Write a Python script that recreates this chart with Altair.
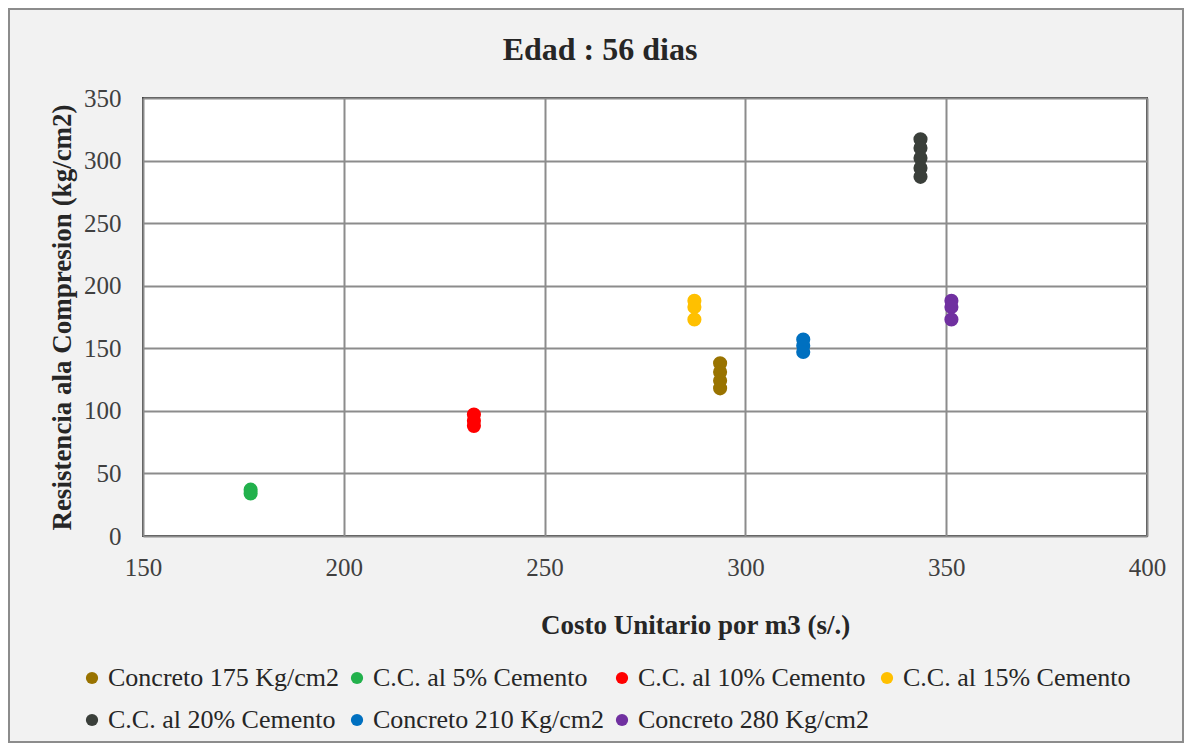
import altair as alt
import pandas as pd

series_names = [
    "Concreto 175 Kg/cm2",
    "C.C. al 5% Cemento",
    "C.C. al 10% Cemento",
    "C.C. al 15% Cemento",
    "C.C. al 20% Cemento",
    "Concreto 210 Kg/cm2",
    "Concreto 280 Kg/cm2",
]
series_colors = ["#997300", "#22B14C", "#FF0000", "#FFC000", "#3A3F3A", "#0070C0", "#7030A0"]

costo_175 = 293.7
res_175 = [138, 131, 124, 118]
costo_5 = 176.8
res_5 = [37, 34]
costo_10 = 232.4
res_10 = [97, 92, 88]
costo_15 = 287.3
res_15 = [188, 183, 173]
costo_20 = 343.6
res_20 = [317, 310, 302, 294, 287]
costo_210 = 314.4
res_210 = [157, 152, 147]
costo_280 = 351.3
res_280 = [188, 183, 173]

chart_title = "Edad : 56 dias"

costs = [costo_175, costo_5, costo_10, costo_15, costo_20, costo_210, costo_280]
resists = [res_175, res_5, res_10, res_15, res_20, res_210, res_280]

rows = []
for name, c, rs in zip(series_names, costs, resists):
    for r in rs:
        rows.append({"serie": name, "costo": c, "resistencia": r})
df = pd.DataFrame(rows)

FONT = "Liberation Serif"

points = alt.Chart(df).mark_circle(size=200, opacity=1).encode(
    x=alt.X("costo:Q",
            scale=alt.Scale(domain=[150, 400], nice=False),
            axis=alt.Axis(values=[150, 200, 250, 300, 350, 400],
                          title="Costo Unitario por m3 (s/.)",
                          titleX=552, titleY=89, titleBaseline="middle",
                          titleFontSize=27, titleFontWeight="bold",
                          labelPadding=19, labelFontSize=25, labelFlush=False)),
    y=alt.Y("resistencia:Q",
            scale=alt.Scale(domain=[0, 350], nice=False),
            axis=alt.Axis(values=[0, 50, 100, 150, 200, 250, 300, 350],
                          title="Resistencia ala Compresion (kg/cm2)",
                          titleX=-81, titleY=219, titleBaseline="middle",
                          titleAngle=270, titleAlign="center",
                          titleFontSize=27, titleFontWeight="bold",
                          labelPadding=22, labelFontSize=25, labelFlush=False)),
    color=alt.Color("serie:N",
                    scale=alt.Scale(domain=series_names, range=series_colors),
                    sort=series_names,
                    legend=alt.Legend(title=None, orient="none",
                                      legendX=-64, legendY=567,
                                      columns=4, gridAlign="none",
                                      symbolType="circle", symbolSize=150,
                                      labelFontSize=26, labelLimit=500,
                                      labelOffset=3, rowPadding=16,
                                      columnPadding=4, direction="horizontal")),
)

border = alt.Chart(alt.Data(values=[{}])).mark_rect(
    fill=None, stroke="#8c8c8c", strokeWidth=2, clip=False
).encode(
    x=alt.value(-134), x2=alt.value(1004 + 36),
    y=alt.value(-89), y2=alt.value(438 + 206),
)

title_mark = alt.Chart(alt.Data(values=[{"t": chart_title}])).mark_text(
    font=FONT, fontSize=32, fontWeight="bold", color="#262626",
    align="center", baseline="middle", clip=False
).encode(
    text="t:N", x=alt.value(457), y=alt.value(-48),
)

chart = alt.layer(border, title_mark, points).properties(
    width=1004,
    height=438,
    autosize=alt.AutoSizeParams(type="none"),
    padding={"left": 135, "top": 90, "right": 37, "bottom": 207},
    background="#f2f2f2",
).configure_view(
    fill="white", stroke="#404040", strokeWidth=2
).configure_axis(
    labelFont=FONT, titleFont=FONT, labelColor="#404040", titleColor="#262626",
    gridColor="#8c8c8c", gridWidth=2, ticks=False, domain=False,
    grid=True,
).configure_legend(
    labelFont=FONT, labelColor="#262626"
)

chart.save("out.html", embed_options={"renderer": "svg", "actions": False})
